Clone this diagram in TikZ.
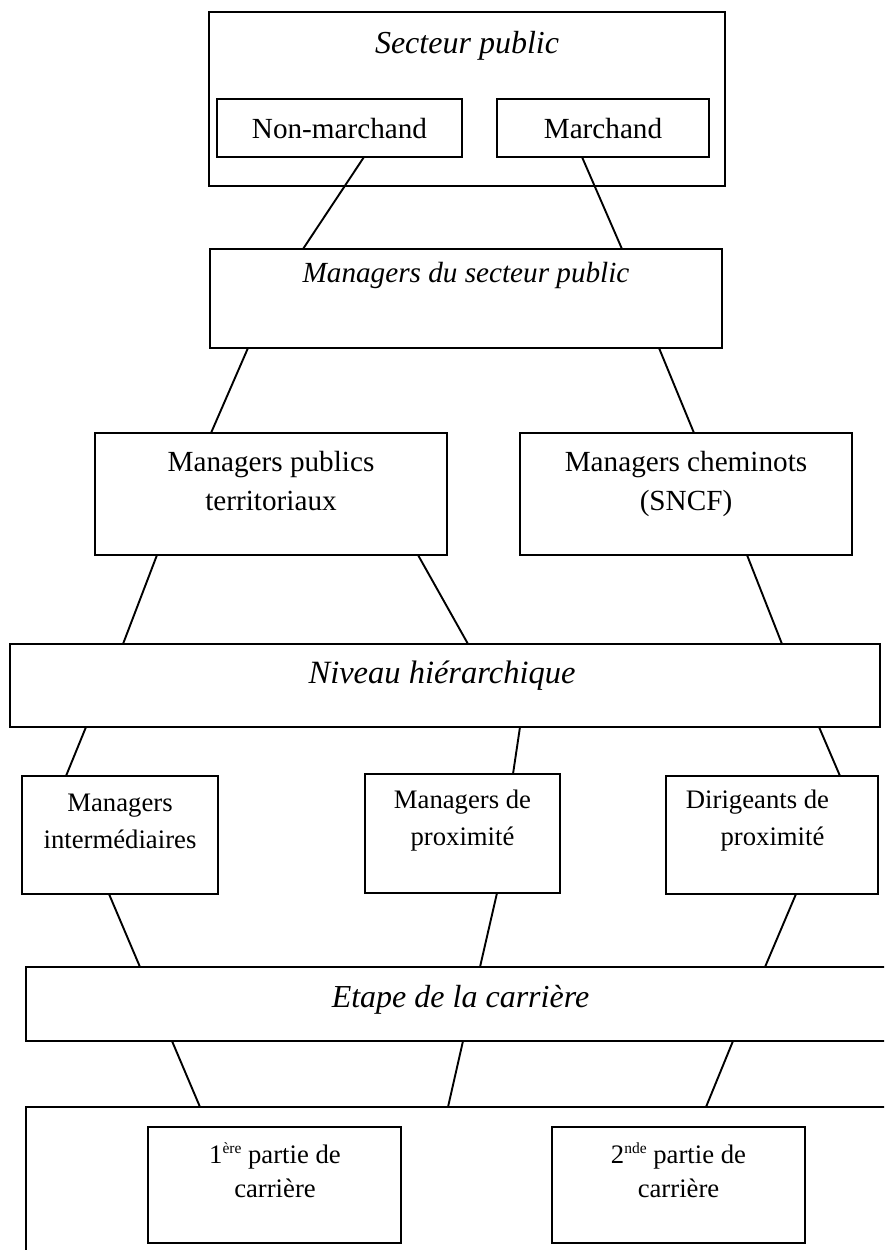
\documentclass[tikz,border=0pt]{standalone}
\usepackage{fontspec}
\setmainfont{Liberation Serif}
\usetikzlibrary{fit,calc}

% small raised ordinal suffix
\newcommand\supx[1]{\raisebox{0.36em}{\fontsize{15.5}{15.5}\selectfont #1}}
% connector from a point on the bottom edge of #1 to a point on the top edge of #3
% (#2 and #4 are the distances from the left edge of each box)
\newcommand\joinboxes[4]{\draw[conn] ($(#1.south west)+(#2,0)$) -- ($(#3.north west)+(#4,0)$);}

\begin{document}
\begin{tikzpicture}[x=1pt,y=-1pt,
  box/.style={draw, line width=1.9pt, inner sep=0pt, outer sep=0pt, rectangle},
  conn/.style={line width=1.9pt},
  lbl/.style={inner sep=0pt, anchor=base, align=center, font=\fontsize{29.2}{37}\selectfont},
  small/.style={lbl, font=\fontsize{26.7}{37}\selectfont},
  head/.style={lbl, font=\fontsize{32}{37}\selectfont\itshape}]
\clip (0,0) rectangle (884,1250);

% boxes
\node[box, fit={(209,12)(725,186)}] (sp) {};
\node[box, fit={(217,99)(462,157)}] (nm) {};
\node[box, fit={(497,99)(709,157)}] (ma) {};
\node[box, fit={(210,249)(722,348)}] (msp) {};
\node[box, fit={(95,433)(447,555)}] (mpt) {};
\node[box, fit={(520,433)(852,555)}] (mcs) {};
\node[box, fit={(10,644)(880,727)}] (niv) {};
\node[box, fit={(22,776)(218,894)}] (mi) {};
\node[box, fit={(365,774)(560,893)}] (mp) {};
\node[box, fit={(666,776)(878,894)}] (dp) {};
\node[box, fit={(26,967)(900,1041)}] (eta) {};
\node[box, fit={(26,1107)(900,1270)}] (bot) {};
\node[box, fit={(148,1127)(401,1243)}] (p1) {};
\node[box, fit={(552,1127)(805,1243)}] (p2) {};

% labels (multi-line labels are placed by the baseline of their last line)
\node[head] (t-sp) at (467,53) {Secteur public};
\node[lbl] (t-nm) at (339.5,138) {Non-marchand};
\node[lbl] (t-ma) at (603,138) {Marchand};
\node[head, font=\fontsize{29.2}{37}\selectfont\itshape] (t-msp) at (466,282) {Managers du secteur public};
\node[lbl, font=\fontsize{29.2}{39}\selectfont] (t-mpt) at (271,510) {Managers publics\\territoriaux};
\node[lbl, font=\fontsize{29.2}{39}\selectfont] (t-mcs) at (686,510) {Managers cheminots\\(SNCF)};
\node[head, font=\fontsize{32.5}{37}\selectfont\itshape] (t-niv) at (442,683) {Niveau hiérarchique};
\node[small] (t-mi) at (120,848) {Managers\\intermédiaires};
\node[small] (t-mp) at (462.5,845) {Managers de\\proximité};
\node[small] (t-dp) at (772.5,845) {Dirigeants de\kern30pt\\proximité};
\node[head] (t-eta) at (460.5,1007) {Etape de la carrière};
\node[small, font=\fontsize{26.7}{34}\selectfont] (t-p1) at (275,1197) {1\supx{ère} partie de\\carrière};
\node[small, font=\fontsize{26.7}{34}\selectfont] (t-p2) at (678.5,1197) {2\supx{nde} partie de\\carrière};

% connectors
\joinboxes{nm}{147}{msp}{93}
\joinboxes{ma}{85}{msp}{412}
\joinboxes{msp}{38}{mpt}{116}
\joinboxes{msp}{449}{mcs}{174}
\joinboxes{mpt}{62}{niv}{113}
\joinboxes{mpt}{323}{niv}{458}
\joinboxes{mcs}{227}{niv}{772}
\joinboxes{niv}{76}{mi}{44}
\joinboxes{niv}{510}{mp}{148}
\joinboxes{niv}{809}{dp}{174}
\joinboxes{mi}{87}{eta}{114}
\joinboxes{mp}{132}{eta}{454}
\joinboxes{dp}{130}{eta}{739}
\joinboxes{eta}{146}{bot}{174}
\joinboxes{eta}{437}{bot}{422}
\joinboxes{eta}{707}{bot}{680}
\end{tikzpicture}
\end{document}
